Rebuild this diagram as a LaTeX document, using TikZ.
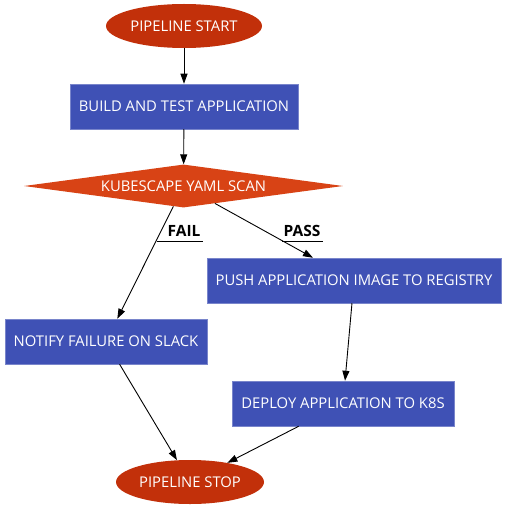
\documentclass[tikz,border=0pt]{standalone}
\usepackage{fontspec}
\setmainfont{Open Sans}
\usetikzlibrary{shapes.geometric,arrows.meta}
\definecolor{stepblue}{HTML}{3F51B5}
\definecolor{scanorange}{HTML}{D84315}
\definecolor{endred}{HTML}{C2300A}
\tikzset{
  terminal/.style={ellipse,fill=endred,text=white,inner sep=0pt,minimum height=44pt,font=\fontsize{14.8}{17}\selectfont},
  stepbox/.style={rectangle,fill=stepblue,draw=stepblue!70!white,line width=0.5pt,text=white,inner sep=0pt,minimum height=45pt,font=\fontsize{14.8}{17}\selectfont},
  check/.style={diamond,fill=scanorange,text=white,inner sep=0pt,aspect=7.4,minimum width=319pt,minimum height=43pt,font=\fontsize{14.8}{17}\selectfont},
  flow/.style={line width=0.9pt,-{Triangle[length=10pt,width=7pt]}},
  lbl/.style={font=\bfseries\fontsize{15.5}{17}\selectfont,inner ysep=5pt,inner xsep=2pt,anchor=base}
}
\begin{document}
\begin{tikzpicture}[x=1pt,y=-1pt]
        \useasboundingbox (0,0) rectangle (512,516);

        \node[terminal,minimum width=156pt] (start) at (184,26) {PIPELINE START};
        \node[stepbox,minimum width=228pt] (build) at (184,106.5) {BUILD AND TEST APPLICATION};
        \node[check] (scan) at (183.5,186) {KUBESCAPE YAML SCAN};
        \node[stepbox,minimum width=294pt] (push) at (354,280.5) {PUSH APPLICATION IMAGE TO REGISTRY};
        \node[stepbox,minimum width=202pt] (notify) at (106,341.5) {NOTIFY FAILURE ON SLACK};
        \node[stepbox,minimum width=222pt] (deploy) at (343,403.5) {DEPLOY APPLICATION TO K8S};
        \node[terminal,minimum width=148pt] (stop) at (190,482) {PIPELINE STOP};

        \draw[flow] (start) -- (build);
        \draw[flow] (build) -- (scan);
        \draw[flow] (scan) -- (notify) coordinate[pos=0.3] (failpt);
        \draw[flow] (scan) -- (push) coordinate[pos=0.685] (passpt);
        \draw[flow] (push) -- (deploy);
        \draw[flow] (notify) -- (stop);
        \draw[flow] (deploy) -- (stop);

        % edge labels with underline
        \node[lbl] (fail) at (184,236) {FAIL};
        \node[lbl] (pass) at (302,236) {PASS};
        \draw[line width=0.9pt] (failpt |- fail.south east) -- (fail.south east);
        \draw[line width=0.9pt] (passpt |- pass.south west) -- (pass.south east);
\end{tikzpicture}
\end{document}
